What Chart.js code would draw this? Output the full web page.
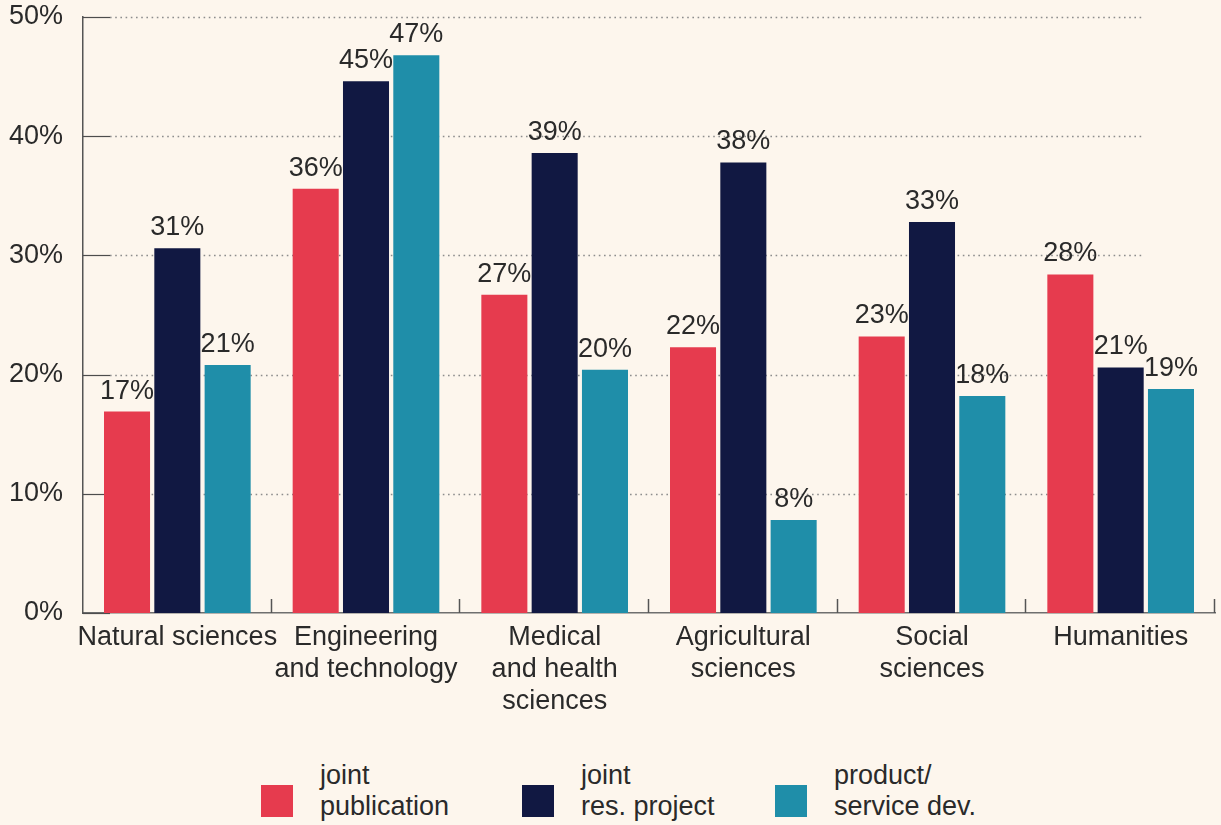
<!DOCTYPE html>
<html>
<head>
<meta charset="utf-8">
<title>Collaboration types by field of science</title>
<script src="https://cdn.jsdelivr.net/npm/chart.js@4/dist/chart.umd.min.js"></script>
<style>
  html, body { margin: 0; padding: 0; background: #fdf6ed; }
  body { width: 1221px; height: 825px; overflow: hidden; position: relative;
         font-family: "Liberation Sans", Arial, sans-serif; color: #2a2a2a; }
  #chart { position: absolute; left: 0; top: 0; }
  #legend { position: absolute; left: 261px; top: 760px; display: flex; }
  .item { display: flex; align-items: flex-start; }
  .item:nth-child(1) { width: 261px; }
  .item:nth-child(2) { width: 253px; }
  .box { width: 32px; height: 32px; margin-top: 25px; margin-right: 27px; flex: none; }
  .txt { font-size: 27px; line-height: 31px; white-space: nowrap; }
</style>
</head>
<body>
<canvas id="chart" width="1221" height="740"></canvas>
<div id="legend"></div>
<script>
// Fields of science (multi-line axis labels)
const categories = [
  ["Natural sciences"],
  ["Engineering", "and technology"],
  ["Medical", "and health", "sciences"],
  ["Agricultural", "sciences"],
  ["Social", "sciences"],
  ["Humanities"]
];

// Share of respondents (%) per collaboration type
const jointPublication  = [16.9, 35.6, 26.7, 22.3, 23.2, 28.4];
const jointResProject   = [30.6, 44.6, 38.6, 37.8, 32.8, 20.6];
const productServiceDev = [20.8, 46.8, 20.4, 7.8, 18.2, 18.8];

const seriesNames = [
  ["joint", "publication"],
  ["joint", "res. project"],
  ["product/", "service dev."]
];

const yTicks = [0, 10, 20, 30, 40, 50];

const COLORS = ["#e63b4e", "#111842", "#1f8ea9"];
const TEXT = "#2a2a2a";
const FONT = "'Liberation Sans', Arial, sans-serif";
const FONT_SIZE = 27;

Chart.defaults.font.family = FONT;
Chart.defaults.font.size = FONT_SIZE;
Chart.defaults.color = TEXT;

// Dotted gridlines, short axis ticks, category dividers and value labels
const frame = {
  id: "frame",
  beforeDatasetsDraw(chart) {
    const { ctx, chartArea: a, scales: { x, y } } = chart;
    ctx.save();
    ctx.lineWidth = 1.6;
    ctx.strokeStyle = "#8d8d8d";
    ctx.setLineDash([1.6, 3.6]);
    yTicks.forEach(v => {
      if (v === 0) return;
      const py = Math.round(y.getPixelForValue(v)) + 0.5;
      ctx.beginPath();
      ctx.moveTo(a.left + 27, py);
      ctx.lineTo(a.right - 73, py);
      ctx.stroke();
    });
    ctx.setLineDash([]);
    ctx.lineWidth = 1.2;
    ctx.strokeStyle = "#4d4d4d";
    yTicks.forEach(v => {
      const py = Math.round(y.getPixelForValue(v)) + 0.5;
      ctx.beginPath();
      ctx.moveTo(a.left, py);
      ctx.lineTo(a.left + 27, py);
      ctx.stroke();
    });
    const step = x.getPixelForValue(1) - x.getPixelForValue(0);
    ctx.lineWidth = 1.5;
    ctx.strokeStyle = "#555";
    categories.forEach((c, i) => {
      const px = Math.round(x.getPixelForValue(i) + step / 2) - 0.5;
      ctx.beginPath();
      ctx.moveTo(px, a.bottom);
      ctx.lineTo(px, a.bottom - 14);
      ctx.stroke();
    });
    ctx.restore();
  },
  afterDatasetsDraw(chart) {
    const { ctx } = chart;
    ctx.save();
    ctx.font = FONT_SIZE + "px " + FONT;
    ctx.fillStyle = TEXT;
    ctx.textAlign = "center";
    ctx.textBaseline = "alphabetic";
    chart.data.datasets.forEach((ds, di) => {
      chart.getDatasetMeta(di).data.forEach((bar, i) => {
        ctx.fillText(Math.round(ds.data[i]) + "%", bar.x, bar.y - 13);
      });
    });
    ctx.restore();
  }
};

const chart = new Chart(document.getElementById("chart"), {
  type: "bar",
  data: {
    labels: categories,
    datasets: [
      { label: seriesNames[0].join(" "), data: jointPublication,  backgroundColor: COLORS[0] },
      { label: seriesNames[1].join(" "), data: jointResProject,   backgroundColor: COLORS[1] },
      { label: seriesNames[2].join(" "), data: productServiceDev, backgroundColor: COLORS[2] }
    ]
  },
  options: {
    responsive: false,
    animation: false,
    devicePixelRatio: 1,
    layout: { padding: { top: 17, right: 6, bottom: 0, left: 0 } },
    datasets: { bar: { categoryPercentage: 0.8, barPercentage: 0.915, borderWidth: 0 } },
    plugins: { legend: { display: false }, tooltip: { enabled: false } },
    scales: {
      x: {
        grid: { display: false, drawTicks: false },
        border: { display: true, color: "#6f6f6f", width: 1.5 },
        ticks: { padding: 8, font: { size: FONT_SIZE, lineHeight: 1.19 }, color: TEXT, maxRotation: 0, autoSkip: false },
        afterFit(s) { s.height = 127; s.paddingLeft = 0; s.paddingRight = 0; }
      },
      y: {
        min: 0, max: 50,
        grid: { display: false, drawTicks: false },
        border: { display: true, color: "#555", width: 1.5 },
        ticks: { stepSize: 10, padding: 20, color: TEXT, font: { size: FONT_SIZE },
                 callback: v => v + "%" },
        afterFit(s) { s.width = 83; s.paddingTop = 0; s.paddingBottom = 0; }
      }
    }
  },
  plugins: [frame]
});

// Legend built from the chart's datasets
const legend = document.getElementById("legend");
chart.data.datasets.forEach((ds, i) => {
  const item = document.createElement("div");
  item.className = "item";
  const box = document.createElement("div");
  box.className = "box";
  box.style.background = ds.backgroundColor;
  const txt = document.createElement("div");
  txt.className = "txt";
  seriesNames[i].forEach((line, k) => {
    if (k) txt.appendChild(document.createElement("br"));
    txt.appendChild(document.createTextNode(line));
  });
  item.appendChild(box);
  item.appendChild(txt);
  legend.appendChild(item);
});
</script>
</body>
</html>
